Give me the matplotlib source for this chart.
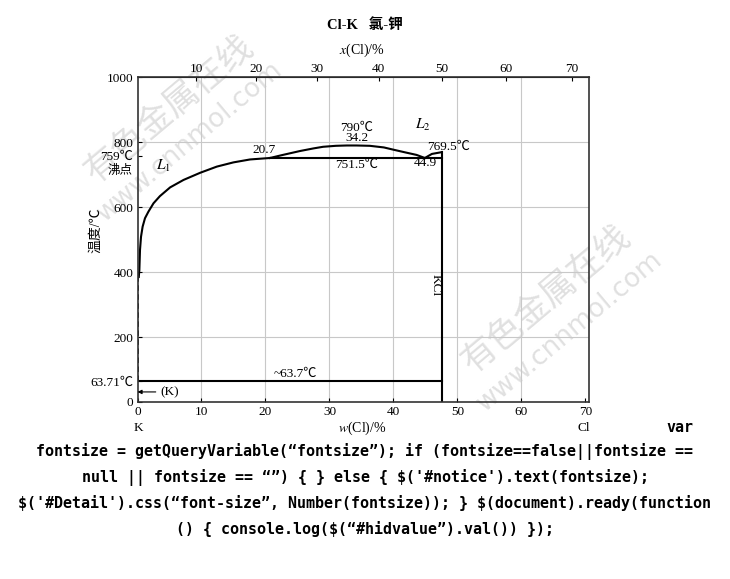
import matplotlib
matplotlib.use("Agg")
import matplotlib.pyplot as plt
import numpy as np

plt.rcParams['font.family'] = ['Liberation Serif', 'Noto Sans CJK SC', 'DejaVu Sans']
plt.rcParams['mathtext.fontset'] = 'stix'

# ---- data (w(Cl) in wt%, T in deg C) ----
l1_w = [0.2, 0.29, 0.39, 0.55, 0.8, 1.17, 1.7, 2.5, 3.5, 5.1, 7.2, 9.8, 12.4, 15.0, 17.6, 20.7]
l1_t = [385, 406, 468, 509, 540, 566, 586, 612, 634, 661, 684, 706, 725, 738, 747, 751.5]
dome_w = [20.7, 22.5, 25.4, 27.5, 29.0, 31.0, 32.7, 34.2, 36.3, 38.5, 40.0, 42.0, 43.6, 44.9]
dome_t = [751.5, 760, 773, 781, 786, 789, 790, 790, 789, 784, 777, 768, 761, 751.5]
kcl_liq_w = [44.9, 46.0, 47.55]
kcl_liq_t = [751.5, 764, 769.5]
dash_w = [0.15, 0.15]
dash_t = [63.71, 400]
kcl_w = 47.55
monotectic_t = 751.5
monotectic_w0 = 20.7
eutectic_t = 63.7
kcl_top_t = 769.5
bottom_ticks = [0, 10, 20, 30, 40, 50, 60, 70]
top_ticks_mol = [10, 20, 30, 40, 50, 60, 70]
y_ticks = [0, 63.71, 200, 400, 600, 759, 800, 1000]
y_ticklabels = ['0', '63.71℃', '200', '400', '600', '759℃', '800', '1000']
M_CL, M_K = 35.45, 39.10

js_lines = [
    'fontsize = getQueryVariable(“fontsize”); if (fontsize==false||fontsize ==',
    'null || fontsize == “”) { } else { $(\'#notice\').text(fontsize);',
    '$(\'#Detail\').css(“font-size”, Number(fontsize)); } $(document).ready(function',
    '() { console.log($(“#hidvalue”).val()) });',
]


def mol2wt(x):
    x = np.asarray(x, dtype=float)
    return 100 * x * M_CL / (x * M_CL + (100 - x) * M_K)


def wt2mol(w):
    w = np.asarray(w, dtype=float)
    a = w / M_CL
    b = (100 - w) / M_K
    with np.errstate(divide='ignore', invalid='ignore'):
        return 100 * a / (a + b)


fig = plt.figure(figsize=(7.3, 5.79), dpi=100)
ax = fig.add_axes([137.5 / 730, 1 - 402 / 579, (589 - 137.5) / 730, (402 - 77.3) / 579])
ax.patch.set_visible(False)
ax.set_xlim(0, 70.55)
ax.set_ylim(0, 1000)

# grid
for g in [10, 20, 30, 40, 50, 60]:
    ax.axvline(g, color='#c8c8c8', lw=0.8, zorder=0)
for g in [200, 400, 600, 800]:
    ax.axhline(g, color='#c8c8c8', lw=0.8, zorder=0)

lc = 'black'
lw = 1.5
ax.plot(l1_w, l1_t, color=lc, lw=lw, solid_joinstyle='round')
ax.plot(dome_w, dome_t, color=lc, lw=lw, solid_joinstyle='round')
ax.plot(kcl_liq_w, kcl_liq_t, color=lc, lw=lw)
ax.plot(dash_w, dash_t, color=lc, lw=1.3, ls=(0, (3, 2)))
ax.plot([monotectic_w0, kcl_w], [monotectic_t, monotectic_t], color=lc, lw=lw)
ax.plot([0, kcl_w], [eutectic_t, eutectic_t], color=lc, lw=lw)
ax.plot([kcl_w, kcl_w], [0, kcl_top_t], color=lc, lw=lw)

for s in ax.spines.values():
    s.set_linewidth(1.2)
    s.set_color('#333333')

fs = 9.5
ax.set_xticks(bottom_ticks)
ax.set_xticklabels([str(t) for t in bottom_ticks], fontsize=fs)
ax.set_yticks(y_ticks)
ax.set_yticklabels(y_ticklabels, fontsize=fs)
ax.tick_params(direction='in', length=3, width=0.8, pad=3)

sec = ax.secondary_xaxis('top', functions=(wt2mol, mol2wt))
sec.set_xticks(top_ticks_mol)
sec.set_xticklabels([str(t) for t in top_ticks_mol], fontsize=fs)
sec.tick_params(direction='in', length=3, width=0.8, pad=2)

# axis labels
fig.text(365 / 730, 1 - 25 / 579, 'Cl-K   氯-钾', ha='center', va='center',
         fontsize=10.5, fontweight='bold')
fig.text(362 / 730, 1 - 50 / 579, r'$x$(Cl)/%', ha='center', va='center', fontsize=10)
fig.text(362 / 730, 1 - 428 / 579, r'$w$(Cl)/%', ha='center', va='center', fontsize=10)
fig.text(138 / 730, 1 - 428 / 579, 'K', ha='center', va='center', fontsize=fs)
fig.text(584 / 730, 1 - 428 / 579, 'Cl', ha='center', va='center', fontsize=fs)
fig.text(96 / 730, 1 - 230 / 579, '温度/℃', ha='center', va='center', rotation=90, fontsize=10)
fig.text(120 / 730, 1 - 171 / 579, '沸点', ha='center', va='center', fontsize=9)

# annotations inside plot
ts = 9.5
ax.text(4.0, 728, r'$L_1$', fontsize=11, ha='center', va='center')
ax.text(44.6, 852, r'$L_2$', fontsize=11, ha='center', va='center')
ax.text(19.8, 777, '20.7', fontsize=ts, ha='center', va='center')
ax.text(34.3, 845, '790℃', fontsize=ts, ha='center', va='center')
ax.text(34.3, 812, '34.2', fontsize=ts, ha='center', va='center')
ax.text(34.3, 729, '751.5℃', fontsize=ts, ha='center', va='center')
ax.text(44.9, 736, '44.9', fontsize=ts, ha='center', va='center')
ax.text(48.6, 786, '769.5℃', fontsize=ts, ha='center', va='center')
ax.text(24.7, 88, '~63.7℃', fontsize=ts, ha='center', va='center')
ax.text(46.6, 360, 'KCl', fontsize=ts, ha='center', va='center', rotation=270)
ax.annotate('(K)', xy=(0, 31), xytext=(3.5, 31), fontsize=ts, va='center', ha='left',
            arrowprops=dict(arrowstyle='-|>', color='black', lw=0.8, mutation_scale=6,
                            shrinkA=1, shrinkB=0))

# watermarks (behind the chart)
wm_color = '#e0e0e0'
for (cx, cy), (wx, wy) in [((170, 110), (190, 142)), ((547, 300), (570, 332))]:
    fig.text(cx / 730, 1 - cy / 579, '有色金属在线', fontsize=25, color=wm_color,
             rotation=40, ha='center', va='center', fontweight='light', zorder=-1)
    fig.text(wx / 730, 1 - wy / 579, 'www.cnnmol.com', fontsize=19, color=wm_color,
             rotation=40, ha='center', va='center', family=['DejaVu Sans'], zorder=-1)

# page text
mono = ['DejaVu Sans Mono']
fig.text(680 / 730, 1 - 428 / 579, 'var', fontsize=10.8, fontweight='bold',
         family=mono, ha='center', va='center', parse_math=False)
for i, line in enumerate(js_lines):
    fig.text(365 / 730, 1 - (451 + 26 * i) / 579, line, fontsize=10.8, fontweight='bold',
             family=mono, ha='center', va='center', parse_math=False)

fig.savefig('out.png', dpi=100)
